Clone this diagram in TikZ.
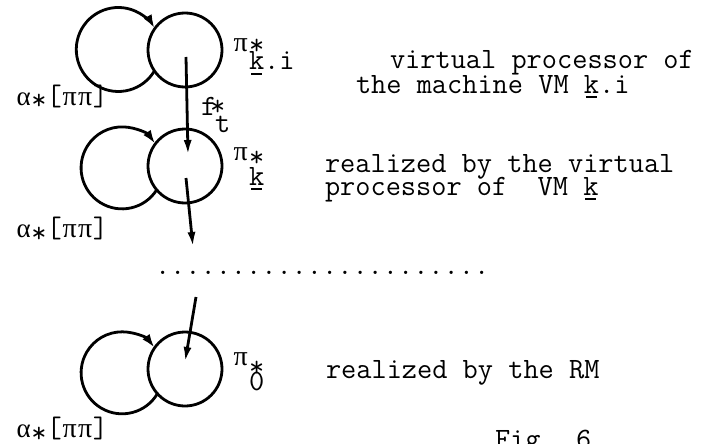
\documentclass[tikz,border=0pt]{standalone}
\usepackage{fontspec}
\newfontfamily\grk{Liberation Serif}
\usetikzlibrary{arrows.meta,calc}
\newcommand\tyul[1]{\rlap{\hspace{2pt}\raisebox{-5pt}{\rule{11pt}{1.8pt}}}#1}
\newcommand\tystar{\raisebox{-5pt}{*}}
\newcommand\gpi{\makebox[15.5pt]{\grk\fontsize{28pt}{30pt}\selectfont π}}
\newcommand\galpha{\makebox[15.5pt]{\grk\fontsize{27pt}{30pt}\selectfont α}}
\begin{document}
\begin{tikzpicture}[x=1pt,y=1pt,
  ring/.style={circle, draw, line width=2.8pt, inner sep=0pt, outer sep=0pt},
  loopring/.style={circle, draw=none, inner sep=0pt, outer sep=0pt},
  txt/.style={font=\ttfamily\fontsize{29.5pt}{34pt}\selectfont, inner sep=0pt, outer sep=0pt, anchor=base west},
  link/.style={line width=2.8pt, -{Latex[length=15pt,width=8pt]}},
  loopline/.style={line width=2.8pt, -{Latex[length=14pt,width=9pt]}}]
\useasboundingbox (0,0) rectangle (712,-444);
% group 1
\node[ring, minimum size=74pt] (R1) at (185,-50) {};
\node[loopring, minimum size=84pt] (L1) at (118,-50) {};
\draw[loopline] (L1.-29.8) arc[start angle=-29.8, end angle=-330.2, radius=42pt];
% group 2
\node[ring, minimum size=74pt] (R2) at (185,-166) {};
\node[loopring, minimum size=82pt] (L2) at (122,-168) {};
\draw[loopline] (L2.-32.2) arc[start angle=-32.2, end angle=-324.2, radius=41pt];
% group 3
\node[ring, minimum size=74pt] (R3) at (185,-369) {};
\node[loopring, minimum size=82pt] (L3) at (122,-373) {};
\draw[loopline] (L3.-30.3) arc[start angle=-30.3, end angle=-322.5, radius=41pt];
% connectors
\coordinate (a1s) at (186,-57);
\coordinate (a1e) at (188,-155);
\coordinate (a2s) at (186,-178);
\coordinate (a2e) at (193,-247);
\coordinate (a3s) at (196,-297);
\coordinate (a3e) at (185,-362);
\draw[link] (a1s) -- (a1e);
\draw[link] (a2s) -- (a2e);
\draw[link] (a3s) -- (a3e);
% dots
\node[txt] (dots) at (155,-274) {......................};
% alpha labels
\node[txt] (al1) at (16,-105) {\galpha\tystar[\gpi\gpi]};
\node[txt] (al2) at (16,-237) {\galpha\tystar[\gpi\gpi]};
\node[txt] (al3) at (16,-437) {\galpha\tystar[\gpi\gpi]};
% pi labels
\node[txt] (p1) at (233,-52) {\gpi};
\node[txt] (p1s) at (249,-55) {*};
\node[txt] (p1k) at (249,-70) {\tyul{k}.i};
\node[txt] (p2) at (233,-160) {\gpi};
\node[txt] (p2s) at (249,-166) {*};
\node[txt] (p2k) at (249,-185) {\tyul{k}};
\node[txt] (p3) at (233,-365) {\gpi};
\node[txt] (p3s) at (249,-376) {*};
\node[txt] (p3k) at (249,-390) {0};
% f*t
\node[txt] (f) at (201,-115) {f};
\node[txt] (fs) at (210,-115) {*};
\node[txt] (ft) at (215,-132) {t};
% descriptions
\node[txt] (d1a) at (390,-68) {virtual processor of};
\node[txt] (d1b) at (356,-93) {the machine VM \tyul{k}.i};
\node[txt] (d2a) at (325,-172) {realized by the virtual};
\node[txt] (d2b) at (325,-195) {processor of\ \ VM \tyul{k}};
\node[txt] (d3) at (326,-378) {realized by the RM};
\node[txt] (fig) at (495,-448) {Fig. 6};
\end{tikzpicture}
\end{document}
